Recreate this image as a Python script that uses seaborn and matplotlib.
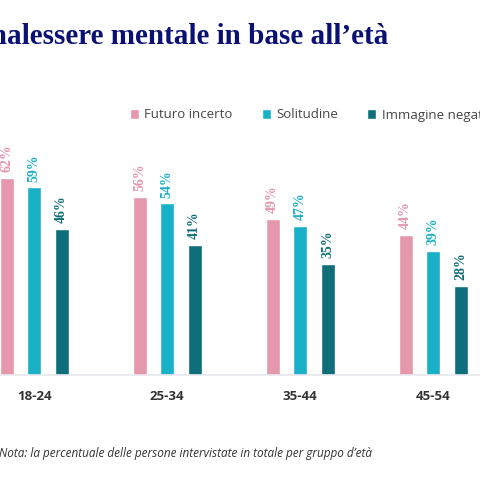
import matplotlib
matplotlib.use("Agg")
import matplotlib.pyplot as plt
import seaborn as sns
import pandas as pd
from matplotlib.patches import Patch

groups = ["18-24", "25-34", "35-44", "45-54"]
series = ["Futuro incerto", "Solitudine", "Immagine negativa"]
futuro = [62, 56, 49, 44]
solitudine = [59, 54, 47, 39]
immagine = [46, 41, 35, 28]
colors = ["#e597ab", "#1ab0c8", "#0e6e7a"]

rows = []
for s, vals in zip(series, [futuro, solitudine, immagine]):
    for g, v in zip(groups, vals):
        rows.append({"Età": g, "Serie": s, "Valore": v})
df = pd.DataFrame(rows)

sns.set_style("white")
fig = plt.figure(figsize=(4.8, 4.8), dpi=100)
ax = fig.add_axes([0, 105/480, 1, 235/480])
sns.barplot(data=df, x="Età", y="Valore", hue="Serie", palette=colors,
            width=0.62, gap=0.49, ax=ax, legend=False, saturation=1)
ax.set_xlim(-0.256, 3.353)
ax.set_ylim(0, 73.9)
for s in ["top", "right", "left"]:
    ax.spines[s].set_visible(False)
ax.spines["bottom"].set_color("#e6e8ec")
ax.spines["bottom"].set_linewidth(1.2)
ax.set_yticks([])
ax.set_xlabel(""); ax.set_ylabel("")
ax.tick_params(axis="x", length=0, pad=11)
for t in ax.get_xticklabels():
    t.set_fontweight("bold"); t.set_fontsize(9.5); t.set_color("#333333")
    t.set_family("Open Sans")

for cont, col in zip(ax.containers, colors):
    for bar in cont:
        h = bar.get_height()
        ax.text(bar.get_x() + bar.get_width()/2, h + 1.8, f"{int(round(h))}%",
                rotation=90, ha="center", va="bottom", color=col,
                fontsize=10, fontweight="bold", family="Liberation Serif")

fig.text(388/480, 1 - 37/480, "Fattori di malessere mentale in base all\u2019età",
         ha="right", va="center", fontsize=21, fontweight="bold",
         color="#0a1172", family="Liberation Serif")

handles = [Patch(facecolor=c, label=s) for c, s in zip(colors, series)]
fig.legend(handles=handles, loc="center left", bbox_to_anchor=(118/480, 1 - 115/480),
           ncol=3, frameon=False, handlelength=0.7, handleheight=0.7,
           handletextpad=0.4, columnspacing=2.2, prop={"family": "Open Sans", "size": 9.5},
           labelcolor="#444444")

fig.text(372/480, 1 - 453/480,
         "Nota: la percentuale delle persone intervistate in totale per gruppo d\u2019età",
         ha="right", va="center", fontsize=8.5, style="italic", color="#333333",
         family="Open Sans")

fig.savefig("out.png", dpi=100, facecolor="white")
